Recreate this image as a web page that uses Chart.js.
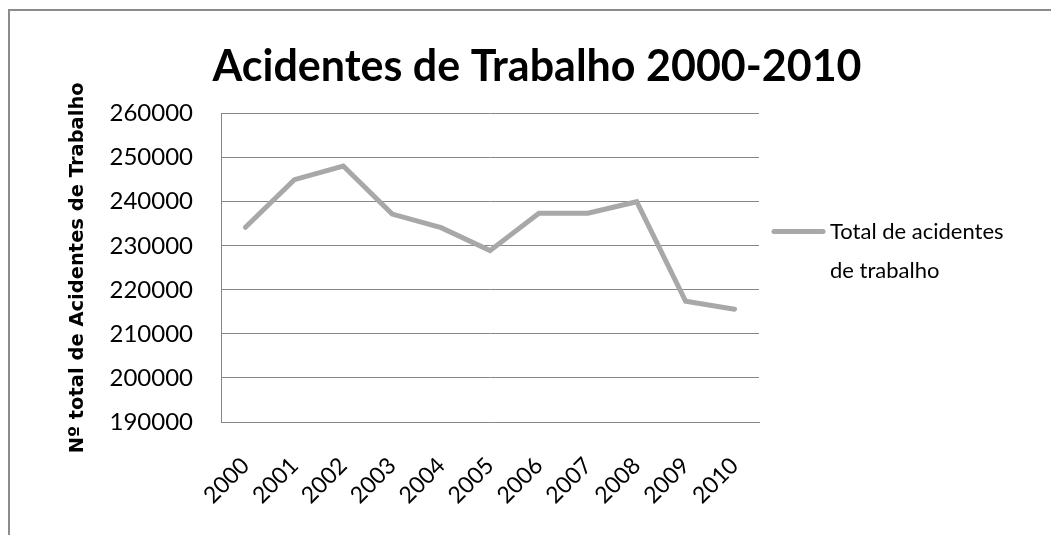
<!DOCTYPE html>
<html>
<head>
<meta charset="utf-8">
<script src="https://cdn.jsdelivr.net/npm/chart.js@4.4.1/dist/chart.umd.min.js"></script>
<style>
  html, body { margin: 0; padding: 0; background: #fff; overflow: hidden; }
  #wrap { position: relative; width: 1051px; height: 535px; }
  #frame { position: absolute; left: 8px; top: 9px; width: 1100px; height: 600px; border: 2px solid #8c8c8c; box-sizing: border-box; }
  canvas { position: absolute; left: 0; top: 0; }
</style>
</head>
<body>
<div id="wrap">
  <div id="frame"></div>
  <canvas id="chart" width="1051" height="535"></canvas>
</div>
<script>
// Acidentes de trabalho, 2000-2010
const years = ['2000', '2001', '2002', '2003', '2004', '2005', '2006', '2007', '2008', '2009', '2010'];
const accidents = [234200, 245000, 248100, 237200, 234100, 228900, 237400, 237400, 240000, 217400, 215600];
const yTicks = [190000, 200000, 210000, 220000, 230000, 240000, 250000, 260000];
const seriesName = ['Total de acidentes', 'de trabalho'];

const gridColor = '#878787';
const lineColor = '#a8a8a8';

// legend drawn beside the plot, in the space kept free by the hidden right axis
const sideLegend = {
  id: 'sideLegend',
  afterDraw(chart) {
    const { ctx, chartArea } = chart;
    const x0 = chartArea.right + 13;
    const y0 = chartArea.top + 118;
    ctx.save();
    ctx.strokeStyle = lineColor;
    ctx.lineWidth = 5;
    ctx.lineCap = 'round';
    ctx.beginPath();
    ctx.moveTo(x0 + 2, y0);
    ctx.lineTo(x0 + 51, y0);
    ctx.stroke();
    ctx.fillStyle = '#000';
    ctx.font = '22px Lato';
    ctx.textBaseline = 'middle';
    ctx.textAlign = 'left';
    seriesName.forEach((t, i) => ctx.fillText(t, x0 + 58, y0 + i * 39));
    ctx.restore();
  }
};

new Chart(document.getElementById('chart'), {
  type: 'line',
  data: {
    labels: years,
    datasets: [{
      label: seriesName.join(' '),
      data: accidents,
      borderColor: lineColor,
      backgroundColor: lineColor,
      borderWidth: 5,
      borderCapStyle: 'round',
      borderJoinStyle: 'miter',
      pointRadius: 0,
      tension: 0,
    }]
  },
  plugins: [sideLegend],
  options: {
    responsive: false,
    animation: false,
    layout: { padding: { left: 66, right: 43, top: 0, bottom: 0 } },
    plugins: {
      title: {
        display: true,
        text: 'Acidentes de Trabalho 2000-2010',
        color: '#000',
        font: { family: 'Lato', size: 43, weight: 'bold', lineHeight: 1.2 },
        padding: { top: 41, bottom: 21 }
      },
      legend: { display: false },
      tooltip: { enabled: false }
    },
    scales: {
      x: {
        offset: true,
        grid: { display: false, drawTicks: false },
        border: { color: gridColor, width: 1 },
        ticks: {
          color: '#000',
          font: { family: 'Lato', size: 23 },
          minRotation: 45,
          maxRotation: 45,
          padding: 30
        },
        afterFit(axis) { axis.height = 113; }
      },
      y: {
        min: 190000,
        max: 260000,
        afterBuildTicks(axis) { axis.ticks = yTicks.map(v => ({ value: v })); },
        grid: { color: gridColor, lineWidth: 1, drawTicks: false },
        border: { color: gridColor, width: 1 },
        ticks: {
          color: '#000',
          font: { family: 'Lato', size: 24 },
          padding: 28,
          callback: v => String(v)
        },
        title: {
          display: true,
          text: 'Nº total de Acidentes de Trabalho',
          color: '#000',
          font: { family: 'DejaVu Sans', size: 19.5, weight: 'bold', lineHeight: 1.2 },
          padding: { top: 0, bottom: 0 }
        },
        afterFit(axis) { axis.width = 155; }
      },
      side: {
        position: 'right',
        display: true,
        min: 0,
        max: 1,
        grid: { display: false, drawTicks: false },
        border: { display: false },
        ticks: { display: false },
        afterFit(axis) { axis.width = 249; }
      }
    }
  }
});
</script>
</body>
</html>
